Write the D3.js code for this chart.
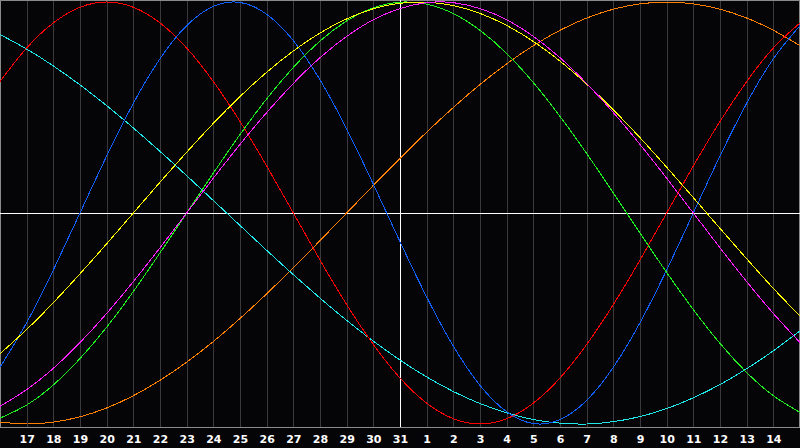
<!DOCTYPE html>
<html>
<head>
<meta charset="utf-8">
<script src="https://cdn.jsdelivr.net/npm/d3@7"></script>
<style>
html,body{margin:0;padding:0;background:#050508;}
svg{display:block;}
</style>
</head>
<body>
<svg id="chart" width="800" height="448"></svg>
<script>
// Day labels (positions 1..29); position 0 = day 16, position 30 = day 15 (unlabelled)
const dayLabels = ["17","18","19","20","21","22","23","24","25","26","27","28","29","30","31",
                   "1","2","3","4","5","6","7","8","9","10","11","12","13","14"];
const todayIndex = 15; // day 31

// Daily values (percent), positions 0..30
const redSeries = [62.3,78.2,90.1,97.5,100,97.5,90.1,78.2,62.3,43.4,22.3,0,-22.3,-43.4,-62.3,-78.2,-90.1,-97.5,-100,-97.5,-90.1,-78.2,-62.3,-43.4,-22.3,0,22.3,43.4,62.3,78.2,90.1];
const blueSeries = [-73.1,-52.0,-27.0,0,27.0,52.0,73.1,88.8,97.9,99.8,94.2,81.7,63.1,39.8,13.6,-13.6,-39.8,-63.1,-81.7,-94.2,-99.8,-97.9,-88.8,-73.1,-52.0,-27.0,0,27.0,52.0,73.1,88.8];
const greenSeries = [-97.2,-91.0,-81.5,-69.0,-54.1,-37.2,-18.9,0,18.9,37.2,54.1,69.0,81.5,91.0,97.2,99.9,99.0,94.5,86.6,75.6,61.8,45.8,28.2,9.5,-9.5,-28.2,-45.8,-61.8,-75.6,-86.6,-94.5];
const magentaSeries = [-91.6,-83.7,-73.6,-61.4,-47.6,-32.5,-16.5,0,16.5,32.5,47.6,61.4,73.6,83.7,91.6,96.9,99.7,99.7,96.9,91.6,83.7,73.6,61.4,47.6,32.5,16.5,0,-16.5,-32.5,-47.6,-61.4];
const yellowSeries = [-66.7,-55.2,-42.5,-28.8,-14.6,0,14.6,28.8,42.5,55.2,66.7,76.8,85.3,92.0,96.8,99.4,99.9,98.3,94.6,88.9,81.3,72.0,61.1,48.9,35.7,21.7,7.3,-7.3,-21.7,-35.7,-48.9];
const orangeSeries = [-99.1,-100,-99.1,-96.6,-92.4,-86.6,-79.3,-70.7,-60.9,-50,-38.3,-25.9,-13.1,0,13.1,25.9,38.3,50,60.9,70.7,79.3,86.6,92.4,96.6,99.1,100,99.1,96.6,92.4,86.6,79.3];
const cyanSeries = [84.6,77.7,69.7,60.7,50.9,40.3,29.2,17.7,5.9,-5.9,-17.7,-29.2,-40.3,-50.9,-60.7,-69.7,-77.7,-84.6,-90.3,-94.7,-97.9,-99.6,-100.0,-98.9,-96.5,-92.7,-87.6,-81.3,-73.8,-65.3,-55.9];

const seriesList = [
  {name:"orange", values: orangeSeries, color:"#ff8000"},
  {name:"cyan", values: cyanSeries, color:"#20e8e8"},
  {name:"red", values: redSeries, color:"#ff0000"},
  {name:"blue", values: blueSeries, color:"#1060ff"},
  {name:"green", values: greenSeries, color:"#20f020"},
  {name:"yellow", values: yellowSeries, color:"#ffff00"},
  {name:"magenta", values: magentaSeries, color:"#ff20ff"}
];

const W = 800, plotH = 427;
const svg = d3.select("#chart");
svg.append("rect").attr("width",800).attr("height",448).attr("fill","#050508");

const x = d3.scaleLinear().domain([0,30]).range([0,800]);
const y = d3.scaleLinear().domain([-100,100]).range([424,2]);

// axis with grid lines
const axis = d3.axisBottom(x)
  .tickValues(d3.range(1,30))
  .tickFormat((d,i)=>dayLabels[i])
  .tickSizeInner(-plotH)
  .tickSizeOuter(0)
  .tickPadding(8);

const gAxis = svg.append("g").attr("transform",`translate(0,${plotH})`).call(axis);
gAxis.select(".domain").remove();
gAxis.selectAll(".tick line").attr("stroke","#3a3a3a").attr("shape-rendering","crispEdges");
gAxis.selectAll(".tick text")
  .attr("fill","#ffffff")
  .attr("font-family","'DejaVu Sans', sans-serif")
  .attr("font-weight","bold")
  .attr("font-size","11px");

// frame
svg.append("rect").attr("x",0.5).attr("y",0.5).attr("width",798.5).attr("height",plotH)
  .attr("fill","none").attr("stroke","#8a8a8a").attr("shape-rendering","crispEdges");

// midline & today line
svg.append("line").attr("x1",0).attr("x2",W).attr("y1",y(0)+0.5).attr("y2",y(0)+0.5)
  .attr("stroke","#ffffff").attr("shape-rendering","crispEdges");
svg.append("line").attr("x1",x(todayIndex)+0.5).attr("x2",x(todayIndex)+0.5).attr("y1",0).attr("y2",plotH)
  .attr("stroke","#ffffff").attr("shape-rendering","crispEdges");

const line = d3.line().x((d,i)=>x(i)).y(d=>y(d)).curve(d3.curveNatural);

svg.append("g").selectAll("path").data(seriesList).join("path")
  .attr("d", d=>line(d.values))
  .attr("fill","none")
  .attr("stroke", d=>d.color)
  .attr("stroke-width",1)
  .attr("shape-rendering","crispEdges");
</script>
</body>
</html>
